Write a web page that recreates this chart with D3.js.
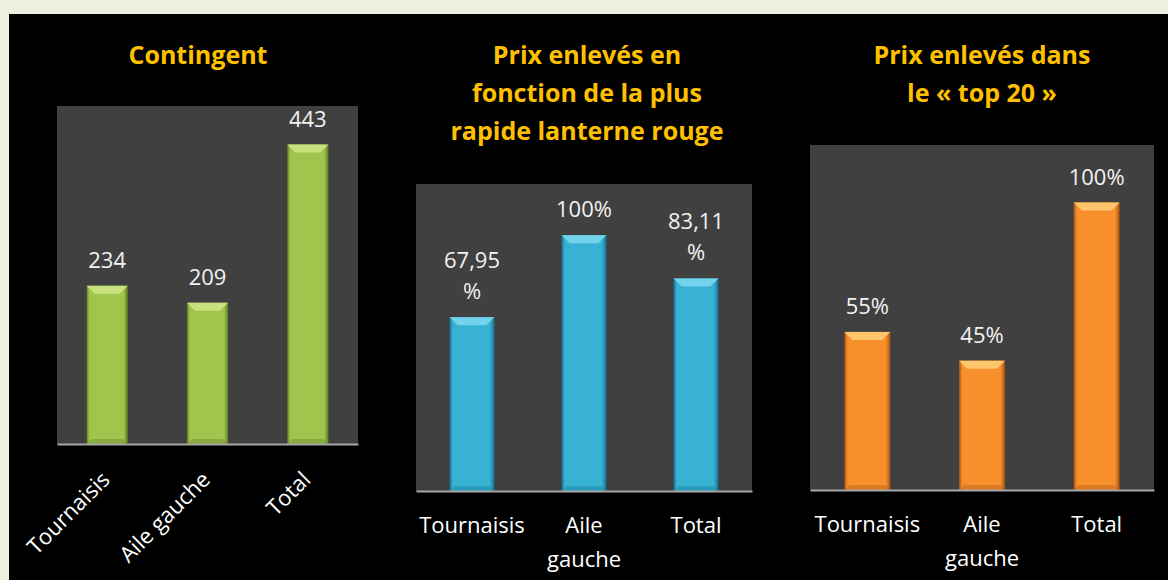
<!DOCTYPE html>
<html>
<head>
<meta charset="utf-8">
<script src="https://cdn.jsdelivr.net/npm/d3@7"></script>
<style>
  body { margin: 0; background: #ebf1de; }
  svg { display: block; font-family: "Open Sans", "Noto Sans", sans-serif; }
</style>
</head>
<body>
<script>
// data
const categories = ["Tournaisis", "Aile gauche", "Total"];
const contingentValues = [234, 209, 443];
const lanterneValues = [0.6795, 1.0, 0.8311];
const top20Values = [0.55, 0.45, 1.0];

const contingentTitle = ["Contingent"];
const lanterneTitle = ["Prix enlevés en", "fonction de la plus", "rapide lanterne rouge"];
const top20Title = ["Prix enlevés dans", "le « top 20 »"];

const width = 1168, height = 580;

const fmtInt = d3.format("d");
const fmtPct = function(v) { return String(+(v * 100).toFixed(2)).replace(".", ",") + "%"; };

const panels = [
  { title: contingentTitle, values: contingentValues, fmt: fmtInt, max: 500,
    left: 57, right: 358, top: 106, base: 444, pad: 0.59, titleX: 198,
    rotate: true, color: { base: "#9fc54c", light: "#c9e27e", dark: "#5f7d22" } },
  { title: lanterneTitle, values: lanterneValues, fmt: fmtPct, max: 1.2,
    left: 416, right: 752, top: 184, base: 491, pad: 0.6, titleX: 587,
    rotate: false, color: { base: "#37b2d5", light: "#74d3ec", dark: "#16708a" } },
  { title: top20Title, values: top20Values, fmt: fmtPct, max: 1.2,
    left: 810, right: 1154, top: 145, base: 490, pad: 0.6, titleX: 982,
    rotate: false, color: { base: "#f7902c", light: "#ffc56a", dark: "#a9540f" } }
];

const svg = d3.select("body").append("svg")
    .attr("width", width)
    .attr("height", height);

const defs = svg.append("defs");

svg.append("rect")
    .attr("width", width).attr("height", height)
    .attr("fill", "#ebf1de");

svg.append("rect")
    .attr("x", 9).attr("y", 14)
    .attr("width", width - 9).attr("height", height - 14)
    .attr("fill", "#000");

panels.forEach(function(p, i) {
  let gradId = "bar-grad-" + i;
  let grad = defs.append("linearGradient")
      .attr("id", gradId)
      .attr("x1", "0%").attr("x2", "100%").attr("y1", "0%").attr("y2", "0%");
  [[0, p.color.dark], [0.07, p.color.base], [0.5, p.color.base], [0.9, p.color.base], [1, p.color.dark]]
    .forEach(function(s) {
      grad.append("stop").attr("offset", s[0]).attr("stop-color", s[1]);
    });

  let x = d3.scaleBand()
      .domain(categories)
      .range([p.left, p.right])
      .paddingInner(p.pad)
      .paddingOuter(p.pad / 2);

  let y = d3.scaleLinear()
      .domain([0, p.max])
      .range([p.base, p.top]);

  let g = svg.append("g");

  // title
  g.append("text")
      .attr("x", p.titleX)
      .attr("y", 64)
      .attr("text-anchor", "middle")
      .attr("fill", "#ffc000")
      .style("font-size", "25px")
      .style("font-weight", "bold")
    .selectAll("tspan")
      .data(p.title)
    .enter().append("tspan")
      .attr("x", p.titleX)
      .attr("dy", function(d, j) { return j === 0 ? 0 : 38; })
      .text(function(d) { return d; });

  // plot area
  g.append("rect")
      .attr("x", p.left)
      .attr("y", p.top)
      .attr("width", p.right - p.left)
      .attr("height", p.base - p.top)
      .attr("fill", "#404040");

  let data = categories.map(function(c, j) { return { cat: c, value: p.values[j] }; });

  let bar = g.selectAll(".bar")
      .data(data)
    .enter().append("g")
      .attr("class", "bar");

  let bevel = 8;

  bar.append("rect")
      .attr("x", function(d) { return x(d.cat); })
      .attr("y", function(d) { return y(d.value); })
      .attr("width", x.bandwidth())
      .attr("height", function(d) { return p.base - y(d.value); })
      .attr("fill", "url(#" + gradId + ")");

  bar.append("path")
      .attr("d", function(d) {
        let x0 = x(d.cat), x1 = x0 + x.bandwidth(), y0 = y(d.value);
        return "M" + x0 + "," + y0 + "H" + x1 + "L" + (x1 - bevel) + "," + (y0 + bevel) +
               "H" + (x0 + bevel) + "Z";
      })
      .attr("fill", p.color.light);

  bar.append("path")
      .attr("d", function(d) {
        let x0 = x(d.cat), x1 = x0 + x.bandwidth(), y0 = p.base;
        return "M" + x0 + "," + y0 + "H" + x1 + "L" + (x1 - 5) + "," + (y0 - 5) +
               "H" + (x0 + 5) + "Z";
      })
      .attr("fill", p.color.dark)
      .attr("opacity", 0.35);

  // value labels
  bar.append("text")
      .attr("x", function(d) { return x(d.cat) + x.bandwidth() / 2; })
      .attr("y", function(d) { return y(d.value) - 18; })
      .attr("text-anchor", "middle")
      .attr("fill", "#f2f2f2")
      .style("font-size", "22px")
      .text(function(d) { return p.fmt(d.value); })
      .each(function(d) {
        let t = d3.select(this);
        if (this.getComputedTextLength() > 64) {
          let s = t.text();
          let cx = t.attr("x"), cy = +t.attr("y");
          t.text(null);
          t.append("tspan").attr("x", cx).attr("y", cy - 31).text(s.slice(0, -1));
          t.append("tspan").attr("x", cx).attr("y", cy).text(s.slice(-1));
        }
      });

  // axis
  let axis = g.append("g")
      .attr("transform", "translate(0," + p.base + ")")
      .call(d3.axisBottom(x).tickSize(0).tickSizeOuter(0));

  axis.select(".domain")
      .attr("stroke", "#a6a6a6")
      .attr("stroke-width", 2);

  let labels = axis.selectAll(".tick text")
      .attr("fill", "#fff")
      .style("font-size", "22px")
      .style("font-family", "'Open Sans', 'Noto Sans', sans-serif");

  if (p.rotate) {
    labels
        .attr("x", 0).attr("y", 0).attr("dy", null)
        .attr("text-anchor", "end")
        .attr("transform", "translate(4,37) rotate(-45)");
  } else {
    labels.each(function(d) {
      let t = d3.select(this);
      let words = d.split(" ");
      t.attr("y", 0).attr("dy", null).text(null);
      let line = [], lineNo = 0;
      let tspan = t.append("tspan").attr("x", 0).attr("y", 42);
      words.forEach(function(w) {
        line.push(w);
        tspan.text(line.join(" "));
        if (tspan.node().getComputedTextLength() > x.step() * 0.95 && line.length > 1) {
          line.pop();
          tspan.text(line.join(" "));
          line = [w];
          lineNo++;
          tspan = t.append("tspan").attr("x", 0).attr("y", 42 + lineNo * 34).text(w);
        }
      });
    });
  }
});
</script>
</body>
</html>
